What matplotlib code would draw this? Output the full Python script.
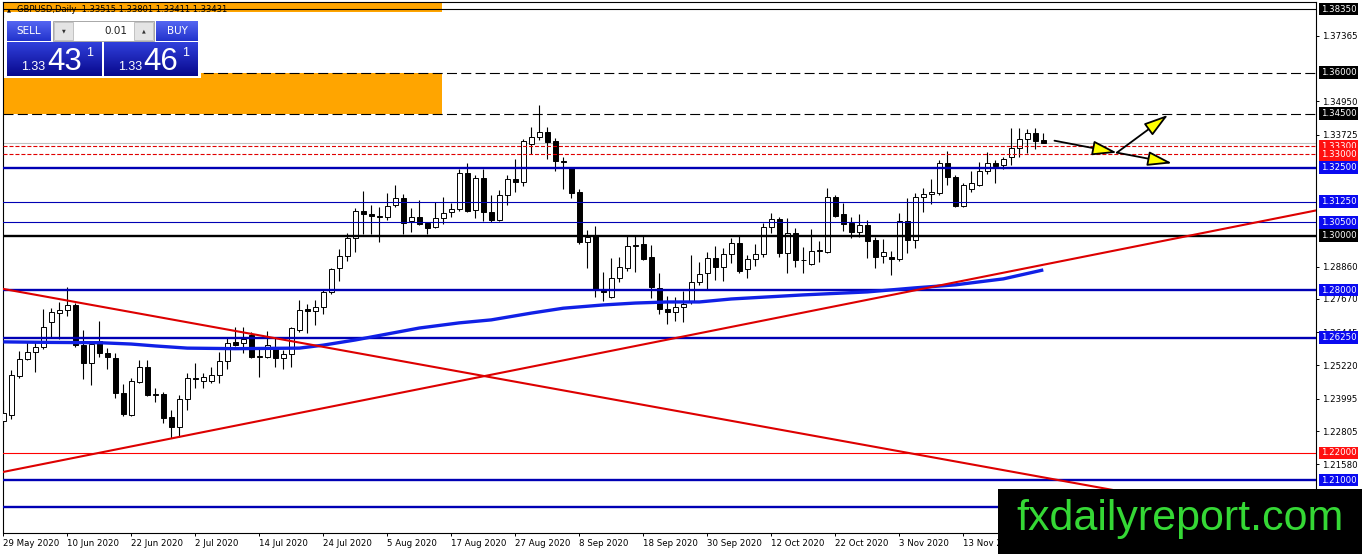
import numpy as np
import matplotlib
matplotlib.use('Agg')
import matplotlib.pyplot as plt
from matplotlib.patches import Rectangle
from matplotlib.colors import LinearSegmentedColormap

plt.rcParams['font.family'] = ['DejaVu Sans']
plt.rcParams['lines.scale_dashes'] = False

# ---------------- data ----------------
opens = [1.2319, 1.2340, 1.2483, 1.2546, 1.2572, 1.2590, 1.2682, 1.2715, 1.2726, 1.2745,
         1.2598, 1.2531, 1.2612, 1.2568, 1.2550, 1.2421, 1.2340, 1.2461, 1.2516, 1.2413,
         1.2417, 1.2332, 1.2295, 1.2399, 1.2476, 1.2465, 1.2465, 1.2487, 1.2539, 1.2609,
         1.2605, 1.2635, 1.2553, 1.2553, 1.2590, 1.2550, 1.2564, 1.2653, 1.2730, 1.2723,
         1.2737, 1.2793, 1.2881, 1.2925, 1.2992, 1.3091, 1.3080, 1.3073, 1.3069, 1.3113,
         1.3139, 1.3054, 1.3069, 1.3047, 1.3032, 1.3065, 1.3088, 1.3099, 1.3231, 1.3095,
         1.3213, 1.3088, 1.3058, 1.3150, 1.3209, 1.3198, 1.3338, 1.3364, 1.3382, 1.3349,
         1.3275, 1.3249, 1.3161, 1.2977, 1.3003, 1.2800, 1.2774, 1.2844, 1.2881, 1.2962,
         1.2969, 1.2922, 1.2807, 1.2730, 1.2719, 1.2737, 1.2756, 1.2830, 1.2863, 1.2918,
         1.2885, 1.2933, 1.2973, 1.2877, 1.2914, 1.2933, 1.3032, 1.3062, 1.2936, 1.3010,
         1.2911, 1.2896, 1.2944, 1.2940, 1.3142, 1.3080, 1.3047, 1.3014, 1.3039, 1.2984,
         1.2925, 1.2922, 1.2914, 1.3054, 1.2984, 1.3143, 1.3154, 1.3157, 1.3268, 1.3216,
         1.3109, 1.3171, 1.3187, 1.3238, 1.3268, 1.3260, 1.3290, 1.3323, 1.3356, 1.3378,
         1.33515]
highs = [1.2395, 1.2505, 1.2575, 1.2612, 1.2612, 1.2730, 1.2734, 1.2756, 1.2811, 1.2752,
         1.2653, 1.2612, 1.2686, 1.2586, 1.2568, 1.2454, 1.2476, 1.2542, 1.2542, 1.2439,
         1.2424, 1.2358, 1.2413, 1.2494, 1.2531, 1.2494, 1.2516, 1.2572, 1.2623, 1.2664,
         1.2664, 1.2646, 1.2586, 1.2649, 1.2623, 1.2579, 1.2664, 1.2763, 1.2749, 1.2763,
         1.2800, 1.2881, 1.2951, 1.3010, 1.3102, 1.3165, 1.3113, 1.3106, 1.3158, 1.3187,
         1.3154, 1.3102, 1.3132, 1.3050, 1.3124, 1.3143, 1.3121, 1.3246, 1.3268, 1.3224,
         1.3246, 1.3150, 1.3168, 1.3224, 1.3282, 1.3356, 1.3401, 1.3481, 1.3401, 1.3360,
         1.3290, 1.3253, 1.3172, 1.3021, 1.3036, 1.2866, 1.2918, 1.2922, 1.2999, 1.2999,
         1.2999, 1.2966, 1.2863, 1.2778, 1.2774, 1.2796, 1.2929, 1.2903, 1.2940, 1.2962,
         1.2955, 1.2992, 1.3003, 1.2929, 1.2969, 1.3047, 1.3084, 1.3069, 1.3065, 1.3028,
         1.2958, 1.3025, 1.2981, 1.3176, 1.3150, 1.3121, 1.3069, 1.3080, 1.3058, 1.2995,
         1.2988, 1.2944, 1.3084, 1.3139, 1.3158, 1.3176, 1.3209, 1.3279, 1.3312, 1.3224,
         1.3194, 1.3238, 1.3272, 1.3308, 1.3279, 1.3290, 1.3397, 1.3397, 1.3393, 1.3397,
         1.33801]
lows = [1.2292, 1.2325, 1.2476, 1.2542, 1.2498, 1.2583, 1.2627, 1.2620, 1.2704, 1.2590,
        1.2472, 1.2450, 1.2553, 1.2509, 1.2402, 1.2336, 1.2336, 1.2457, 1.2410, 1.2388,
        1.2310, 1.2255, 1.2258, 1.2358, 1.2439, 1.2439, 1.2457, 1.2457, 1.2509, 1.2594,
        1.2568, 1.2550, 1.2480, 1.2550, 1.2516, 1.2509, 1.2516, 1.2646, 1.2642, 1.2671,
        1.2712, 1.2785, 1.2833, 1.2907, 1.2940, 1.3006, 1.3006, 1.2977, 1.3058, 1.3106,
        1.3006, 1.3013, 1.3039, 1.3006, 1.3028, 1.3043, 1.3069, 1.3091, 1.3088, 1.3065,
        1.3054, 1.3050, 1.3054, 1.3113, 1.3161, 1.3183, 1.3301, 1.3353, 1.3282, 1.3238,
        1.3171, 1.3139, 1.2970, 1.2881, 1.2774, 1.2760, 1.2770, 1.2830, 1.2870, 1.2866,
        1.2910, 1.2770, 1.2712, 1.2675, 1.2686, 1.2682, 1.2748, 1.2818, 1.2804, 1.2837,
        1.2833, 1.2899, 1.2863, 1.2844, 1.2888, 1.2922, 1.3010, 1.2922, 1.2863, 1.2885,
        1.2863, 1.2892, 1.2903, 1.2936, 1.3069, 1.3017, 1.2992, 1.2995, 1.2918, 1.2881,
        1.2899, 1.2855, 1.2907, 1.2936, 1.2955, 1.3087, 1.3117, 1.3150, 1.3187, 1.3106,
        1.3106, 1.3161, 1.3183, 1.3227, 1.3194, 1.3246, 1.3260, 1.3290, 1.3305, 1.3319,
        1.33411]
closes = [1.2346, 1.2487, 1.2546, 1.2572, 1.2590, 1.2664, 1.2719, 1.2726, 1.2745, 1.2598,
          1.2531, 1.2602, 1.2568, 1.2553, 1.2421, 1.2343, 1.2465, 1.2516, 1.2413, 1.2417,
          1.2329, 1.2295, 1.2399, 1.2476, 1.2472, 1.2480, 1.2487, 1.2539, 1.2605, 1.2598,
          1.2620, 1.2553, 1.2557, 1.2598, 1.2550, 1.2564, 1.2660, 1.2726, 1.2723, 1.2737,
          1.2793, 1.2877, 1.2925, 1.2992, 1.3091, 1.3080, 1.3073, 1.3069, 1.3110, 1.3139,
          1.3047, 1.3069, 1.3043, 1.3028, 1.3065, 1.3084, 1.3099, 1.3231, 1.3091, 1.3213,
          1.3088, 1.3058, 1.3150, 1.3209, 1.3198, 1.3349, 1.3364, 1.3382, 1.3345, 1.3275,
          1.3272, 1.3157, 1.2977, 1.2995, 1.2804, 1.2793, 1.2844, 1.2885, 1.2962, 1.2966,
          1.2914, 1.2811, 1.2730, 1.2719, 1.2737, 1.2748, 1.2830, 1.2859, 1.2918, 1.2885,
          1.2933, 1.2973, 1.2870, 1.2914, 1.2933, 1.3032, 1.3062, 1.2936, 1.3010, 1.2911,
          1.2909, 1.2944, 1.2946, 1.3143, 1.3073, 1.3043, 1.3014, 1.3039, 1.2981, 1.2922,
          1.2940, 1.2914, 1.3054, 1.2984, 1.3143, 1.3154, 1.3161, 1.3268, 1.3216, 1.3109,
          1.3187, 1.3194, 1.3238, 1.3268, 1.3257, 1.3283, 1.3323, 1.3356, 1.3378, 1.3349,
          1.33431]

date_labels = ['29 May 2020', '10 Jun 2020', '22 Jun 2020', '2 Jul 2020', '14 Jul 2020',
               '24 Jul 2020', '5 Aug 2020', '17 Aug 2020', '27 Aug 2020', '8 Sep 2020',
               '18 Sep 2020', '30 Sep 2020', '12 Oct 2020', '22 Oct 2020', '3 Nov 2020',
               '13 Nov 2020']
date_bars = [0, 8, 16, 24, 32, 40, 48, 56, 64, 72, 80, 88, 96, 104, 112, 120]

ma_bars = [0, 6, 12, 16, 19, 23, 29, 37, 40, 44, 48, 52, 57, 61, 66, 70, 75, 79, 83, 87,
           91, 100, 108, 114, 119, 125, 130]
ma_values = [1.2609, 1.2607, 1.2606, 1.2601, 1.2594, 1.2586, 1.2584, 1.2586, 1.2597, 1.2616,
             1.2638, 1.2660, 1.2679, 1.2690, 1.2715, 1.2733, 1.2745, 1.2752, 1.2756, 1.2756,
             1.2767, 1.2782, 1.2793, 1.2808, 1.2819, 1.2841, 1.2874]

levels = [1.38350, 1.36000, 1.34500, 1.33300, 1.33000, 1.32500, 1.31250, 1.30500,
          1.30000, 1.28000, 1.26250, 1.22000, 1.21000, 1.20000]
level_kinds = ['black1', 'dash', 'dash', 'reddot', 'reddot', 'blue2', 'blue1', 'blue1',
               'black2', 'blue2', 'blue2', 'red1', 'blue2', 'blue2']
# 1.20000 has no visible price label (it sits under the watermark)
label_bg = ['black', 'black', 'black', 'red', 'red', 'blue', 'blue', 'blue',
            'black', 'blue', 'blue', 'red', 'blue', None]

bid_price = 1.33431
axis_ticks = [1.37365, 1.34950, 1.33725, 1.28860, 1.27670, 1.26445, 1.25220,
              1.23995, 1.22805, 1.21580]

trend_down = [(0, 1.2804), (130, 1.2110)]
trend_up = [(0, 1.2130), (130, 1.2893)]

zone_top = (1.3825, 1.3950)
zone_box = (1.3450, 1.3600)
zone_start_bar = -10
zone_end_bar = 54.9

arrows = [((131.4, 1.3350), (139.2, 1.3306)),
          ((139.2, 1.3306), (145.6, 1.3445)),
          ((139.2, 1.3306), (146.1, 1.3267))]

title_text = 'GBPUSD,Daily  1.33515 1.33801 1.33411 1.33431'

# ---------------- figure ----------------
W, H = 1362, 554
fig = plt.figure(figsize=(W / 100, H / 100), dpi=100)
fig.patch.set_facecolor('white')

ax_l, ax_r, ax_t, ax_b = 2.7, 1316.0, 1.7, 532.5
ax = fig.add_axes([ax_l / W, 1 - ax_b / H, (ax_r - ax_l) / W, (ax_b - ax_t) / H])
ax.set_xlim(-0.075, 164.09)
ax.set_ylim(1.19069, 1.38619)

BLUE_LINE = '#0000B4'
styles = {
    'black1': dict(color='black', lw=0.8),
    'dash': dict(color='black', lw=0.8, dashes=(7.2, 3.1)),
    'reddot': dict(color='#E00000', lw=0.8, dashes=(2.9, 1.4)),
    'blue2': dict(color=BLUE_LINE, lw=1.7),
    'blue1': dict(color=BLUE_LINE, lw=0.8),
    'black2': dict(color='black', lw=1.7),
    'red1': dict(color='#FF0000', lw=0.8),
}
bg_colors = {'black': '#000000', 'red': '#FF1010', 'blue': '#0A0AF0'}

# orange zones
ax.add_patch(Rectangle((zone_start_bar, zone_top[0]), zone_end_bar - zone_start_bar,
                       zone_top[1] - zone_top[0], fc='#FFA500', ec='none', zorder=1))
ax.add_patch(Rectangle((zone_start_bar, zone_box[0]), zone_end_bar - zone_start_bar,
                       zone_box[1] - zone_box[0], fc='#FFA500', ec='none', zorder=1))

# candles
x = np.arange(len(opens))
o = np.array(opens); h = np.array(highs); l = np.array(lows); c = np.array(closes)
up = c >= o
ax.vlines(x, l, h, color='black', lw=0.8, zorder=3)
ax.bar(x, np.maximum(np.abs(c - o), 0.00004), bottom=np.minimum(o, c), width=0.62,
       color=np.where(up, 'white', 'black'), edgecolor='black', linewidth=0.7, zorder=4)

# horizontal levels
ax.axhline(bid_price, color='#C0C0C0', lw=0.8, zorder=2)
for lv, kind in zip(levels, level_kinds):
    ax.axhline(lv, zorder=5, **styles[kind])

# moving average
ax.plot(ma_bars, ma_values, color='#1020E6', lw=2.4, zorder=6, solid_capstyle='butt')

# trend lines
ax.axline(trend_down[0], trend_down[1], color='#DD0000', lw=1.5, zorder=6)
ax.axline(trend_up[0], trend_up[1], color='#DD0000', lw=1.5, zorder=6)

# arrows
for start, end in arrows:
    ax.annotate('', xy=end, xytext=start, zorder=8,
                arrowprops=dict(arrowstyle='-|>,head_length=1.5,head_width=0.45',
                                fc='#FFFF00', ec='black', lw=1.3,
                                shrinkA=0, shrinkB=0))

# axes styling
for sp in ax.spines.values():
    sp.set_linewidth(0.8)
    sp.set_color('black')
ax.yaxis.tick_right()
ax.set_yticks(axis_ticks)
ax.set_yticklabels([f'{t:.5f}' for t in axis_ticks])
ax.set_xticks(date_bars)
ax.set_xticklabels(date_labels, ha='left')
ax.tick_params(axis='both', direction='out', length=2.5, width=0.7, labelsize=6.2,
               pad=1.5, colors='black')
ax.tick_params(axis='x', pad=2.2)

# level labels on the price axis
for lv, bg in zip(levels, label_bg):
    if bg is None:
        continue
    ax.annotate(f'{lv:.5f}', xy=(1, lv), xycoords=ax.get_yaxis_transform(),
                xytext=(3.4, 0), textcoords='offset points', ha='left', va='center',
                fontsize=6.2, color='white', zorder=20, annotation_clip=False,
                bbox=dict(boxstyle='square,pad=0.22', fc=bg_colors[bg], ec='none'))

# ---------------- overlay (trade panel, title, watermark) ----------------
ov = fig.add_axes([0, 0, 1, 1], zorder=10)
ov.patch.set_visible(False)
ov.axis('off')


def grad_box(x0, y0, x1, y1, c_top, c_bot):
    cmap = LinearSegmentedColormap.from_list('g', [c_top, c_bot])
    ov.imshow(np.linspace(0, 1, 64).reshape(-1, 1), extent=(x0, x1, y1, y0),
              origin='upper', cmap=cmap, aspect='auto', interpolation='bilinear', zorder=2)


ov.text(8.5, 9.5, '\u25B2', fontsize=3.8, color='black', ha='center', va='center')
ov.text(17, 9.8, title_text, fontsize=6, color='black', ha='left', va='center')

ov.add_patch(Rectangle((4, 18), 197, 60, fc='white', ec='none', zorder=1))
grad_box(7, 21, 51, 41, '#5566F2', '#2233CC')
grad_box(156, 21, 198, 41, '#5566F2', '#2233CC')
grad_box(7, 42, 102, 76, '#3040DC', '#08088C')
grad_box(104, 42, 198, 76, '#3040DC', '#08088C')
ov.add_patch(Rectangle((53, 21), 101, 20, fc='white', ec='#A8A8A8', lw=0.7, zorder=3))
ov.add_patch(Rectangle((54, 22), 19, 18, fc='#E4E4E4', ec='#B0B0B0', lw=0.5, zorder=3))
ov.add_patch(Rectangle((134, 22), 19, 18, fc='#E4E4E4', ec='#B0B0B0', lw=0.5, zorder=3))
ov.plot([10, 48], [40.5, 40.5], color='white', lw=0.6, zorder=4)
ov.plot([159, 195], [40.5, 40.5], color='white', lw=0.6, zorder=4)
ov.text(63.5, 31, '\u25BC', fontsize=3.5, color='#333333', ha='center', va='center', zorder=5)
ov.text(143.5, 31, '\u25B2', fontsize=3.5, color='#333333', ha='center', va='center', zorder=5)
ov.text(127, 31, '0.01', fontsize=7.5, color='#222222', ha='right', va='center', zorder=5)
ov.text(29, 31, 'SELL', fontsize=7.5, color='white', ha='center', va='center', zorder=5)
ov.text(177, 31, 'BUY', fontsize=7.5, color='white', ha='center', va='center', zorder=5)

big = dict(family='Liberation Sans', color='white', zorder=5, va='baseline')
ov.text(21, 69.5, '1.33', fontsize=9, ha='left', **big)
ov.text(47, 70, '43', fontsize=22.5, ha='left', **big)
ov.text(86.5, 56, '1', fontsize=9, ha='left', **big)
ov.text(118, 69.5, '1.33', fontsize=9, ha='left', **big)
ov.text(143, 70, '46', fontsize=22.5, ha='left', **big)
ov.text(182.5, 56, '1', fontsize=9, ha='left', **big)

ov.add_patch(Rectangle((998, 489), W - 998, H - 489, fc='black', ec='none', zorder=6))
ov.text(1180, 519, 'fxdailyreport.com', family='Liberation Sans', fontsize=31,
        color='#35D835', ha='center', va='center', zorder=7)

ov.set_xlim(0, W)
ov.set_ylim(H, 0)

fig.savefig('out.png', dpi=100)
